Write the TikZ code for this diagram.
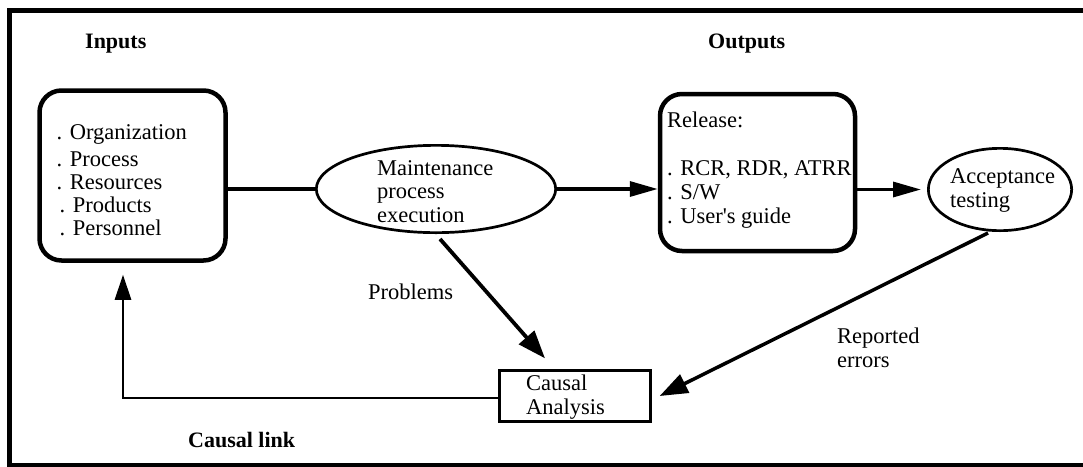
\documentclass[tikz,border=0pt]{standalone}
\usepackage{fontspec}
\setmainfont{Liberation Serif}[Ligatures=TeXOff]
\usetikzlibrary{arrows.meta,shapes.geometric,calc}
% left-aligned multi-line block whose baseline is that of its first line
\newcommand{\stack}[1]{\begin{tabular}[t]{@{}l@{}}#1\end{tabular}}

\begin{document}
\begin{tikzpicture}[x=1pt,y=-1pt,
  lbl/.style={inner sep=0pt, anchor=base west, font=\fontsize{22.5}{24}\selectfont},
  head/.style={inner sep=0pt, anchor=base west, font=\bfseries\fontsize{22}{24}\selectfont},
  slot/.style={draw, line width=4.5pt, rounded corners=22pt, inner sep=0pt},
  oval/.style={draw, ellipse, line width=2.7pt, inner sep=0pt},
  plainbox/.style={draw, line width=2.3pt, inner sep=0pt},
  wire/.style={line width=3.3pt},
  flat/.style={wire, -{Triangle[length=28pt,width=15pt]}},
  slant/.style={line width=3.8pt, -{Triangle[length=28pt,width=20pt]}},
  back/.style={line width=2.8pt, -{Triangle[length=25pt,width=16pt]}}]

\useasboundingbox (0,0) rectangle (1083,466);

% outer frame, running off the right edge
\begin{scope}
  \clip (0,0) rectangle (1083,466);
  \draw[line width=5pt] (9.5,10.5) rectangle (1095,465.5);
\end{scope}

% headings
\node[head] (inputs)  at (85,48)   {Inputs};
\node[head] (outputs) at (708,48)  {Outputs};
\node[head] (clink)   at (188,447) {Causal link};

% shapes
\node[slot, minimum width=186pt, minimum height=170pt] (inbox) at (132.5,175.5) {};
\node[slot, minimum width=195pt, minimum height=157pt] (rel)   at (757.5,172.5) {};
\node[oval, minimum width=239.4pt, minimum height=87.3pt] (maint) at (436,189) {};
\node[oval, minimum width=143.3pt, minimum height=82.3pt] (acc)   at (1000,189.5) {};
\node[plainbox, minimum width=151pt, minimum height=51pt] (causal) at (575,396) {};

% texts inside the shapes
\node[lbl, font=\fontsize{22.5}{23}\selectfont] (intxt) at (56.5,139)
  {\stack{. Organization\\[4pt] . Process\\ . Resources\\ \hspace{3pt}. Products\\ \hspace{3pt}. Personnel}};
\node[lbl, font=\fontsize{22.5}{23.5}\selectfont] (mtxt) at (377,175)
  {\stack{Maintenance\\process\\execution}};
\node[lbl] (rtxt) at (667,127)
  {\stack{Release:\\ \\ . RCR, RDR, ATRR\\ . S/W\\ . User's guide}};
\node[lbl] (atxt) at (950,183) {\stack{Acceptance\\testing}};
\node[lbl] (ctxt) at (526,390) {\stack{Causal\\Analysis}};

% edge labels
\node[lbl] (problems) at (368,299) {Problems};
\node[lbl] (reported) at (837,343) {\stack{Reported\\errors}};

% connectors
\draw[wire] (inbox.east |- maint.west) -- (maint.west);
\draw[flat] (maint.east) -- (maint.east -| rel.west);
\draw[flat, shorten >=6pt] (rel.east |- acc.west) -- (acc.west);
\draw[slant] ($(maint.south)+(4,5)$) -- ($(causal.north)+(-30,-11)$);
\draw[slant, line width=3.5pt] ($(acc.south)+(-12,1)$) -- ($(causal.east)+(8,0)$);
\draw[back] ($(causal.west)+(0,2)$) -| ($(inbox.south)+(-9.5,12)$);

\end{tikzpicture}
\end{document}
